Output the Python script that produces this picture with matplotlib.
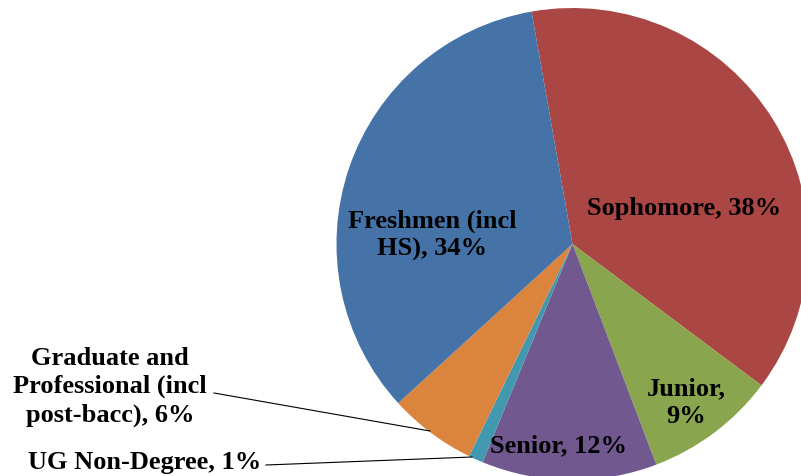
import matplotlib
matplotlib.use("Agg")
import matplotlib.pyplot as plt

labels = ["Sophomore", "Junior", "Senior", "UG Non-Degree", "Graduate and\nProfessional (incl\npost-bacc)", "Freshmen (incl\nHS)"]
values = [38, 9, 12, 1, 6, 34]
colors = ["#AA4643", "#89A54E", "#71588F", "#4198AF", "#DB843D", "#4572A7"]

W, H = 801, 476
fig = plt.figure(figsize=(W / 100, H / 100), dpi=100)
cx, cy, r = 572.5, 232.0, 236.0  # cy measured from bottom
ax = fig.add_axes([(cx - r) / W, (cy - r) / H, 2 * r / W, 2 * r / H])
ax.axis("off")

wedges, _ = ax.pie(values, colors=colors, startangle=100, counterclock=False,
                   radius=1.0, center=(0, 0), wedgeprops=dict(linewidth=0))
ax.set_xlim(-1, 1)
ax.set_ylim(-1, 1)

font = dict(family="Liberation Serif", fontweight="bold", fontsize=19, color="black")
LS = 1.27


def px(x, y):
    # figure pixel (top-left origin) to data coords
    return ((x - cx) / r, ((H - y) - cy) / r)


inside = {
    0: (684, 208, "Sophomore, 38%"),
    1: (686, 403, "Junior,\n9%"),
    2: (558, 446, "Senior, 12%"),
    5: (432, 235, "Freshmen (incl\nHS), 34%"),
}
for i, (x, y, t) in inside.items():
    ax.text(*px(x, y), t, ha="center", va="center", linespacing=LS, **font)

# outside labels with leader lines
gx, gy = px(110, 387)
ax.text(gx, gy, "Graduate and\nProfessional (incl\npost-bacc), 6%", ha="center", va="center",
        linespacing=LS, clip_on=False, **font)
ax.plot(*zip(px(214, 393), px(430, 431)), color="black", lw=0.8, clip_on=False)

ux, uy = px(145, 463)
ax.text(ux, uy, "UG Non-Degree, 1%", ha="center", va="center", clip_on=False, **font)
ax.plot(*zip(px(266, 465), px(472, 457)), color="black", lw=0.8, clip_on=False)

for w in wedges:
    w.set_clip_on(False)

fig.savefig("out.png", dpi=100)
